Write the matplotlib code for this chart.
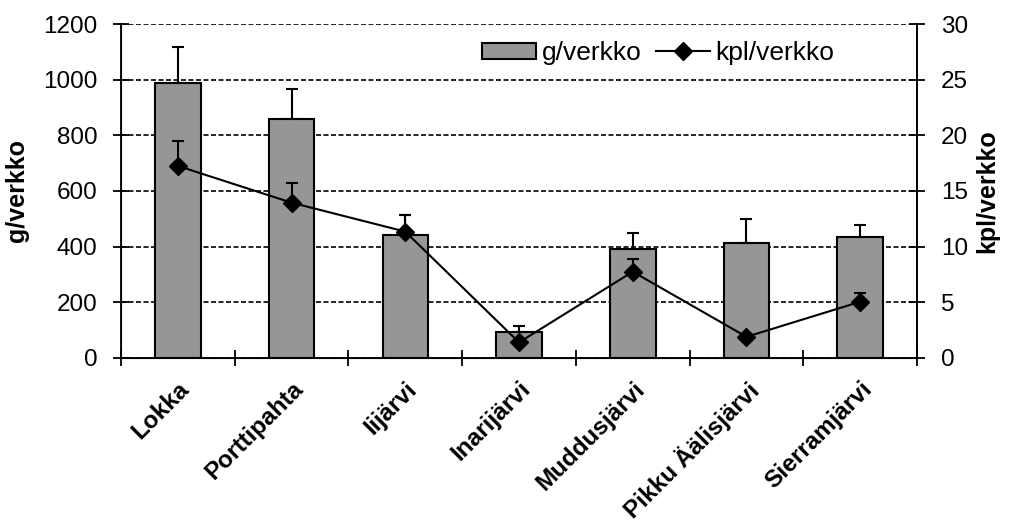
import numpy as np
import matplotlib
matplotlib.use("Agg")
import matplotlib.pyplot as plt

plt.rcParams['font.family'] = ['Liberation Sans', 'DejaVu Sans']

lakes = ['Lokka', 'Porttipahta', 'Iijärvi', 'Inarijärvi', 'Muddusjärvi',
         'Pikku Äälisjärvi', 'Sierramjärvi']
g_verkko = [987, 859, 442, 92, 393, 414, 435]
g_err = [129, 106, 72, 23, 57, 85, 44]
kpl_verkko = [17.25, 13.95, 11.35, 1.4, 7.75, 1.9, 5.05]
kpl_err = [2.25, 1.75, 1.5, 0.0, 1.15, 0.0, 0.8]

fig = plt.figure(figsize=(10.1, 5.29), dpi=100)
ax = fig.add_subplot(111)
fig.subplots_adjust(left=0.1198, right=0.908, top=0.9546, bottom=0.3233)

x = np.arange(len(lakes))

ax.set_axisbelow(True)
ax.yaxis.grid(True, linestyle=(0, (3, 1.5)), color='black', linewidth=1.2)

bars = ax.bar(x, g_verkko, width=0.4, color='#969696', edgecolor='black',
              linewidth=1.5, label='g/verkko', zorder=2)
ax.errorbar(x, g_verkko, yerr=[np.zeros(len(x)), g_err], fmt='none',
            ecolor='black', elinewidth=1.5, capsize=4, capthick=1.5, zorder=3)

ax.set_xlim(-0.5, len(lakes) - 0.5)
ax.set_ylim(0, 1200)
ax.set_yticks(range(0, 1201, 200))
ax.set_xticks(np.arange(len(lakes) + 1) - 0.5, minor=False)
ax.set_xticklabels([])
ax.set_xticks(x, minor=True)
ax.set_xticklabels(lakes, minor=True, rotation=45, ha='right',
                   rotation_mode='anchor', fontsize=17.5, fontweight='bold')
ax.tick_params(axis='x', which='minor', length=0, pad=14)
ax.tick_params(axis='x', which='major', direction='inout', length=12,
               width=1.3)
ax.tick_params(axis='y', direction='inout', length=12, width=1.3,
               labelsize=17.5, pad=11)
ax.set_ylabel('g/verkko', fontsize=18, fontweight='bold', labelpad=10)

ax.spines['top'].set_visible(False)
for s in ['left', 'bottom', 'right']:
    ax.spines[s].set_linewidth(1.3)

ax2 = ax.twinx()
ax2.errorbar(x, kpl_verkko, yerr=[np.zeros(len(x)), kpl_err], fmt='none',
             ecolor='black', elinewidth=1.5, capsize=4, capthick=1.5,
             zorder=4)
line, = ax2.plot(x, kpl_verkko, color='black', linewidth=1.5, marker='D',
                 markersize=9, label='kpl/verkko', zorder=5)
ax2.set_ylim(0, 30)
ax2.set_yticks(range(0, 31, 5))
ax2.tick_params(axis='y', direction='inout', length=12, width=1.3,
                labelsize=17.5, pad=11)
ax2.set_ylabel('kpl/verkko', fontsize=18, fontweight='bold', labelpad=5)
ax2.spines['top'].set_visible(False)
ax2.spines['right'].set_linewidth(1.3)

ax2.legend([bars, line], ['g/verkko', 'kpl/verkko'], loc='center',
           bbox_to_anchor=(0.675, 0.913), ncol=2, frameon=False, fontsize=19,
           handlelength=2.05, handleheight=0.55, handletextpad=0.2,
           columnspacing=0.57, borderpad=0, borderaxespad=0)

fig.savefig('out.png', dpi=100)
